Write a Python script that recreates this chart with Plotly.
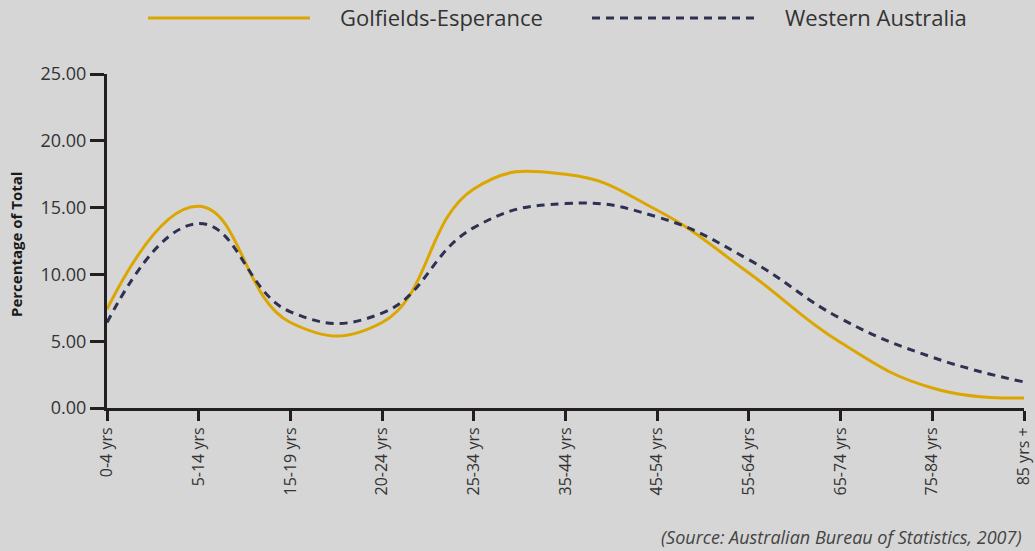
import plotly.graph_objects as go

# age groups on the x axis
age_groups = ['0-4 yrs', '5-14 yrs', '15-19 yrs', '20-24 yrs', '25-34 yrs', '35-44 yrs',
              '45-54 yrs', '55-64 yrs', '65-74 yrs', '75-84 yrs', '85 yrs +']

# percentage of total population
goldfields = [7.4, 15.1, 6.4, 6.4, 16.4, 17.5, 14.8, 10.1, 4.9, 1.5, 0.75]
western_australia = [6.4, 13.8, 7.2, 7.1, 13.5, 15.3, 14.3, 11.1, 6.7, 3.8, 1.95]

series_names = ['Golfields-Esperance', 'Western Australia']

BG = '#d6d6d6'
GOLD = '#dba600'
NAVY = '#2e3152'
AXIS = '#231f20'
FONT = 'Open Sans'

fig = go.Figure()
fig.add_trace(go.Scatter(
    x=list(range(len(age_groups))), y=goldfields, name=series_names[0],
    mode='lines', line=dict(color=GOLD, width=3, shape='spline', smoothing=1.3),
))
fig.add_trace(go.Scatter(
    x=list(range(len(age_groups))), y=western_australia, name=series_names[1],
    mode='lines', line=dict(color=NAVY, width=3, dash='8px,6px', shape='spline', smoothing=1.3),
))

fig.update_layout(
    width=1035, height=551,
    paper_bgcolor=BG, plot_bgcolor=BG,
    margin=dict(l=107, r=11, t=74, b=143),
    showlegend=False,
    font=dict(family=FONT, color='#333333'),
)

fig.update_xaxes(
    range=[0, len(age_groups) - 1], automargin=False,
    tickmode='array', tickvals=list(range(len(age_groups))), ticktext=age_groups,
    tickangle=-90, tickfont=dict(size=16, color='#333333'),
    showgrid=False, zeroline=False,
    showline=True, linecolor=AXIS, linewidth=3,
    ticks='outside', ticklen=10, tickwidth=3, tickcolor=AXIS,
)
fig.update_yaxes(
    range=[0, 25], dtick=5, tickformat='.2f', automargin=False,
    tickfont=dict(size=18, color='#333333'),
    showgrid=False, zeroline=False,
    showline=True, linecolor=AXIS, linewidth=3,
    ticks='outside', ticklen=14, tickwidth=3, tickcolor=AXIS,
)

# y axis title
fig.add_annotation(text='<b>Percentage of Total</b>', xref='paper', yref='paper',
                   x=-(107 - 16) / 917, y=(408 - 245) / 334, textangle=-90,
                   xanchor='center', yanchor='middle', showarrow=False,
                   font=dict(size=15, color='#1a1a1a'))

# custom legend across the top
fig.add_shape(type='line', xref='paper', yref='paper',
              x0=(148 - 107) / 917, x1=(310 - 107) / 917, y0=1 + 56 / 334, y1=1 + 56 / 334,
              line=dict(color=GOLD, width=3))
fig.add_shape(type='line', xref='paper', yref='paper',
              x0=(592 - 107) / 917, x1=(755 - 107) / 917, y0=1 + 56 / 334, y1=1 + 56 / 334,
              line=dict(color=NAVY, width=3, dash='8px,6px'))
fig.add_annotation(text=series_names[0], xref='paper', yref='paper',
                   x=(338 - 107) / 917, y=1 + 57 / 334, xanchor='left', yanchor='middle',
                   showarrow=False, font=dict(size=22, color='#333333'))
fig.add_annotation(text=series_names[1], xref='paper', yref='paper',
                   x=(783 - 107) / 917, y=1 + 57 / 334, xanchor='left', yanchor='middle',
                   showarrow=False, font=dict(size=22, color='#333333'))

# source note
fig.add_annotation(text='<i>(Source: Australian Bureau of Statistics, 2007)</i>',
                   xref='paper', yref='paper', x=1, y=-(537 - 408) / 334,
                   xanchor='right', yanchor='middle', showarrow=False,
                   font=dict(size=18, color='#444444'))

fig.write_html('out.html', config={'displayModeBar': False},
               post_script="document.body.style.margin='0';document.body.style.overflow='hidden';")
